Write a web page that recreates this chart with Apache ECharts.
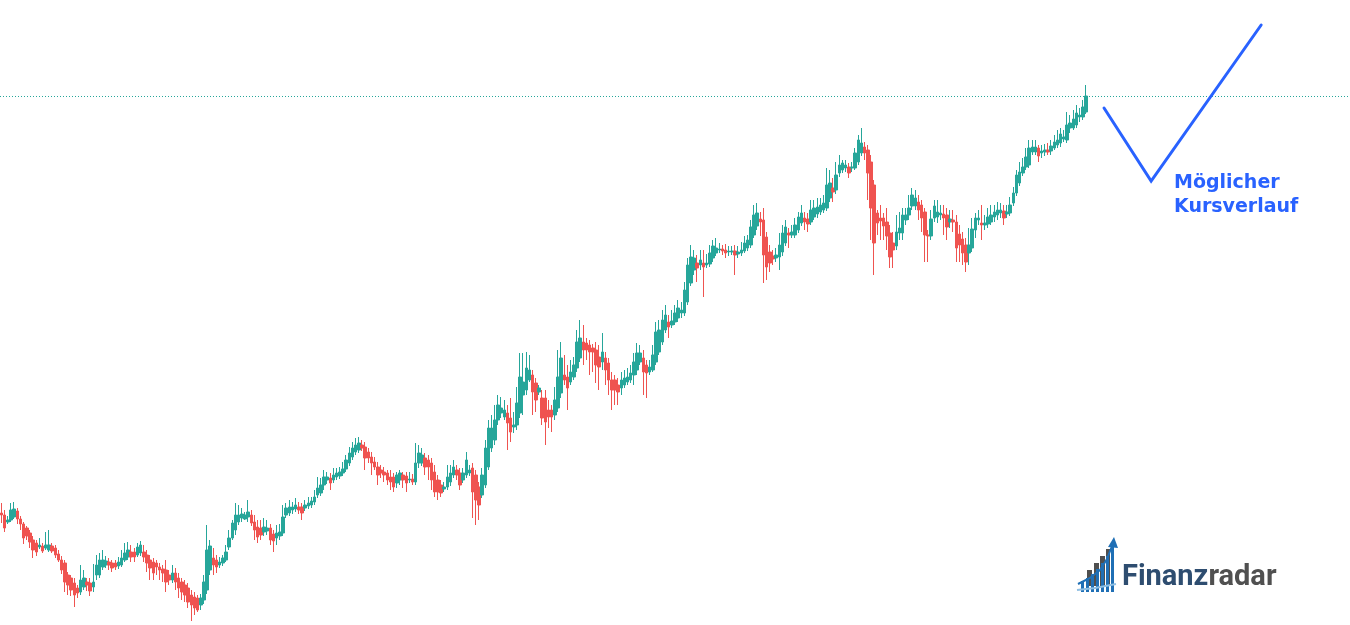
<!DOCTYPE html>
<html>
<head>
<meta charset="utf-8">
<script src="https://cdn.jsdelivr.net/npm/echarts@6/dist/echarts.min.js"></script>
<style>
html,body{margin:0;padding:0;background:#ffffff;}
#chart{width:1350px;height:625px;}
</style>
</head>
<body>
<div id="chart"></div>
<script>
// Price units: arbitrary (no axis in the reference).
const open = [
112,110,103,105,108,114,106,101,97,92,
85,82,78,79,77,75,79,77,71,65,
62,50,47,42,37,33,38,43,42,38,
50,50,58,60,63,62,62,59,60,65,
68,73,73,70,72,73,70,65,63,62,
58,56,55,50,45,52,47,43,40,37,
30,28,27,20,25,35,55,67,65,60,
62,65,78,87,95,103,107,106,108,110,
103,98,97,93,94,97,91,87,89,92,
110,112,115,116,118,118,117,119,120,123,
130,132,140,145,147,145,148,149,152,156,
162,168,173,175,180,178,173,168,163,158,
155,153,152,148,148,142,145,150,149,145,
146,143,162,162,167,165,162,153,145,140,
136,138,143,150,155,152,145,150,152,157,
150,138,130,140,158,177,185,205,212,208,
212,207,198,200,212,230,235,245,250,242,
233,227,227,215,215,210,217,232,250,248,
243,248,257,267,283,282,280,277,275,268,
263,267,262,245,245,240,237,240,243,245,
250,255,263,267,260,253,255,263,273,283,
295,303,300,303,307,312,312,323,342,355,
362,360,362,360,361,367,372,375,376,375,
373,373,374,371,372,374,377,380,390,399,
406,405,388,373,369,367,368,373,382,392,
390,390,395,402,407,406,403,408,411,413,
415,417,427,437,435,452,455,457,458,457,
457,463,472,478,475,463,440,412,407,407,
403,392,382,379,392,392,405,410,419,419,
423,420,413,390,389,407,408,410,411,410,
403,405,403,391,386,380,372,377,395,405,
402,400,401,403,408,410,412,414,411,412,
422,432,442,452,458,460,473,473,477,472,
473,475,474,477,480,482,486,485,497,497,
500,508,508,513
];
const close = [
110,97,105,115,116,106,101,87,89,83,
75,73,80,74,80,80,74,70,65,55,
43,40,35,30,32,45,47,40,34,43,
60,65,65,64,60,57,58,63,67,72,
75,68,68,78,80,68,62,57,52,58,
55,52,43,45,52,43,37,33,30,23,
20,17,15,27,43,75,79,60,58,63,
67,73,87,102,110,110,111,110,113,102,
95,88,90,98,97,85,84,92,93,108,
117,118,118,120,115,112,120,122,124,128,
137,140,148,148,142,150,152,153,156,165,
172,177,180,182,177,167,167,162,158,150,
152,150,145,143,138,150,152,145,142,146,
143,162,172,170,158,158,145,133,133,132,
138,148,152,158,150,140,152,165,155,133,
125,120,150,177,197,197,205,220,217,215,
202,193,200,222,248,243,257,255,233,225,
237,207,203,208,208,225,248,267,245,237,
253,260,283,287,275,275,273,273,260,258,
273,255,245,235,235,233,245,247,248,252,
263,272,272,253,252,258,270,293,295,305,
310,298,304,312,317,315,335,360,368,367,
357,365,358,362,372,379,377,376,374,372,
374,374,370,373,375,382,385,398,410,412,
403,370,358,362,366,370,380,392,398,390,
393,400,408,412,403,401,415,417,418,420,
422,440,442,433,450,460,462,460,452,458,
472,485,482,472,452,417,382,402,404,399,
389,368,375,393,397,410,410,417,430,427,
415,407,390,389,406,419,413,412,407,398,
406,403,377,380,372,363,380,396,407,407,
400,402,408,410,413,415,415,407,413,420,
432,450,453,458,468,477,478,478,469,474,
475,473,479,483,485,491,488,500,502,506,
512,510,518,529
];
const low = [
102,93,101,103,106,101,95,81,85,77,
67,69,76,72,75,73,72,67,63,51,
33,30,29,18,27,30,35,34,29,33,
45,47,55,57,55,53,55,56,58,63,
65,63,63,68,69,63,53,45,45,50,
45,43,33,40,42,35,27,25,23,17,
4,10,13,15,21,31,50,50,52,57,
59,63,75,85,90,100,103,105,103,99,
85,82,85,89,90,80,73,80,85,89,
107,109,111,113,111,105,114,116,117,120,
127,129,135,141,135,142,145,146,149,153,
159,165,170,172,174,155,162,150,155,140,
147,143,140,135,133,137,140,137,133,142,
140,140,157,159,150,145,135,128,125,128,
133,135,139,147,145,135,142,147,149,107,
100,105,127,137,155,173,180,200,207,205,
175,183,192,195,207,210,230,243,210,213,
230,200,180,197,193,205,213,227,240,215,
240,245,253,263,260,265,250,253,242,235,
255,240,230,215,220,220,230,237,240,242,
240,250,260,230,227,250,253,260,270,280,
292,287,297,300,303,307,309,320,339,350,
343,355,328,357,358,363,369,372,370,367,
369,370,350,367,369,372,374,377,387,395,
389,342,345,353,360,363,355,369,379,377,
387,387,392,399,395,393,400,405,407,410,
412,414,423,423,431,448,452,453,447,453,
455,460,469,465,425,385,350,390,385,385,
375,357,357,375,385,385,400,405,415,415,
405,393,363,363,385,403,402,405,390,385,
397,393,363,363,360,353,360,373,387,400,
385,395,397,400,403,405,407,400,407,409,
419,429,439,449,455,457,470,470,463,467,
469,470,470,475,477,478,483,482,492,495,
497,503,505,511
];
const high = [
122,115,109,122,123,117,109,103,99,95,
89,85,87,82,93,95,82,80,75,69,
65,53,50,47,40,60,55,47,47,61,
70,72,75,69,67,65,65,68,75,82,
83,80,77,82,84,80,75,70,67,65,
62,60,65,55,60,57,52,47,45,42,
35,33,30,31,50,100,85,77,70,68,
70,80,95,105,122,120,117,113,125,115,
110,105,105,107,105,101,95,100,101,120,
122,125,123,127,123,122,125,128,128,135,
148,147,155,153,152,157,157,158,163,170,
178,183,187,188,185,183,177,173,168,163,
160,158,155,155,152,153,155,153,153,153,
151,182,180,177,172,170,167,160,150,145,
143,160,160,165,160,157,157,173,160,162,
155,143,157,185,205,210,220,230,228,225,
220,227,213,238,272,272,273,270,255,247,
240,235,235,225,220,238,275,283,270,260,
265,268,295,305,300,287,285,281,283,280,
292,273,267,253,250,247,253,255,257,260,
272,282,280,275,265,265,280,303,305,315,
320,310,315,320,325,323,343,367,380,375,
370,375,375,371,380,385,387,382,380,381,
379,379,380,379,383,389,390,405,420,422,
413,417,393,380,375,377,392,400,405,397,
400,407,413,420,413,412,425,425,427,427,
430,457,455,447,463,470,465,465,462,463,
477,490,497,483,480,470,445,415,420,412,
417,400,393,410,413,417,417,430,437,435,
430,425,417,395,415,425,425,420,420,417,
415,415,410,400,393,387,397,407,412,415,
420,410,417,420,420,423,422,420,420,428,
438,455,463,467,477,485,485,485,480,480,
481,482,485,490,495,497,495,513,510,515,
520,517,525,540
];
// Bar slots along the time axis (candles + empty space on the right)
const slotCount = 427;
const categories = Array.from({length: slotCount}, (_, i) => String(i + 1));
// Drawn "possible course" path (x in bar slots, y in price units)
const projX = [349.2, 364.1, 398.9];
const projY = [517, 444, 600];
const projLabel = ['Möglicher', 'Kursverlauf'];

const UP = '#26a69a', DOWN = '#ef5350', BLUE = '#2962ff';
const LOGO_BLUE = '#1f6fb5', LOGO_GRAY = '#4f4f4f';

const chart = echarts.init(document.getElementById('chart'), null, {renderer: 'canvas'});
const candles = open.map((o, i) => [o, close[i], low[i], high[i]]);

function bar(x, top, w, color, bottom) {
  return {type: 'rect', silent: true, shape: {x: x, y: top, width: w, height: bottom - top}, style: {fill: color}};
}

chart.setOption({
  animation: false,
  backgroundColor: '#ffffff',
  grid: {left: 0, right: 0, top: 0, bottom: 0},
  xAxis: [
    {type: 'category', data: categories, boundaryGap: true, show: false},
    {type: 'value', min: 0, max: slotCount, show: false}
  ],
  yAxis: [{type: 'value', min: 0, max: 625, show: false, splitLine: {show: false}}],
  series: [
    {
      type: 'candlestick',
      xAxisIndex: 0, yAxisIndex: 0,
      data: candles,
      barWidth: 3,
      itemStyle: {color: UP, color0: DOWN, borderColor: UP, borderColor0: DOWN, borderWidth: 1},
      emphasis: {disabled: true},
      markLine: {
        silent: true, symbol: 'none', animation: false,
        label: {show: false},
        lineStyle: {color: UP, type: [1, 2], width: 1},
        data: [{yAxis: close[close.length - 1]}]
      }
    },
    {
      type: 'line',
      xAxisIndex: 1, yAxisIndex: 0,
      data: projX.map((x, i) => [x, projY[i]]),
      symbol: 'none',
      lineStyle: {color: BLUE, width: 3, cap: 'round', join: 'miter'},
      z: 5,
      silent: true
    }
  ],
  graphic: [
    {
      type: 'text', left: 1174, top: 171, silent: true,
      style: {text: projLabel.join('\n'), fill: BLUE, font: 'bold 19px "DejaVu Sans"', lineHeight: 24}
    },
    // logo icon: gray bars behind, blue bars in front, rising arrow
    bar(1087, 570, 5, LOGO_GRAY, 586),
    bar(1094, 563, 5, LOGO_GRAY, 586),
    bar(1100, 556, 5, LOGO_GRAY, 586),
    bar(1106, 549, 4, LOGO_GRAY, 586),
    bar(1081, 581, 3, LOGO_BLUE, 592),
    bar(1086, 578, 3, LOGO_BLUE, 592),
    bar(1091, 574, 3, LOGO_BLUE, 592),
    bar(1096, 569, 3, LOGO_BLUE, 592),
    bar(1101, 563, 3, LOGO_BLUE, 592),
    bar(1106, 556, 3, LOGO_BLUE, 592),
    bar(1111, 547, 3, LOGO_BLUE, 592),
    {type: 'polyline', silent: true, shape: {points: [[1078, 584], [1090, 578], [1100, 570], [1107, 559], [1112, 546]]}, style: {stroke: LOGO_BLUE, lineWidth: 2, fill: null}},
    {type: 'polygon', silent: true, shape: {points: [[1108, 547], [1114, 537], [1118, 548]]}, style: {fill: LOGO_BLUE}},
    {type: 'polyline', silent: true, shape: {points: [[1077, 590], [1095, 588], [1116, 584]]}, style: {stroke: '#8fbfe3', lineWidth: 2, fill: null}},
    {
      type: 'text', left: 1122, top: 563, silent: true,
      style: {
        text: '{a|Finanz}{b|radar}',
        rich: {
          a: {fill: '#2e4d70', font: 'bold 29px Roboto'},
          b: {fill: '#505050', font: 'bold 29px Roboto'}
        }
      }
    }
  ]
});
</script>
</body>
</html>
